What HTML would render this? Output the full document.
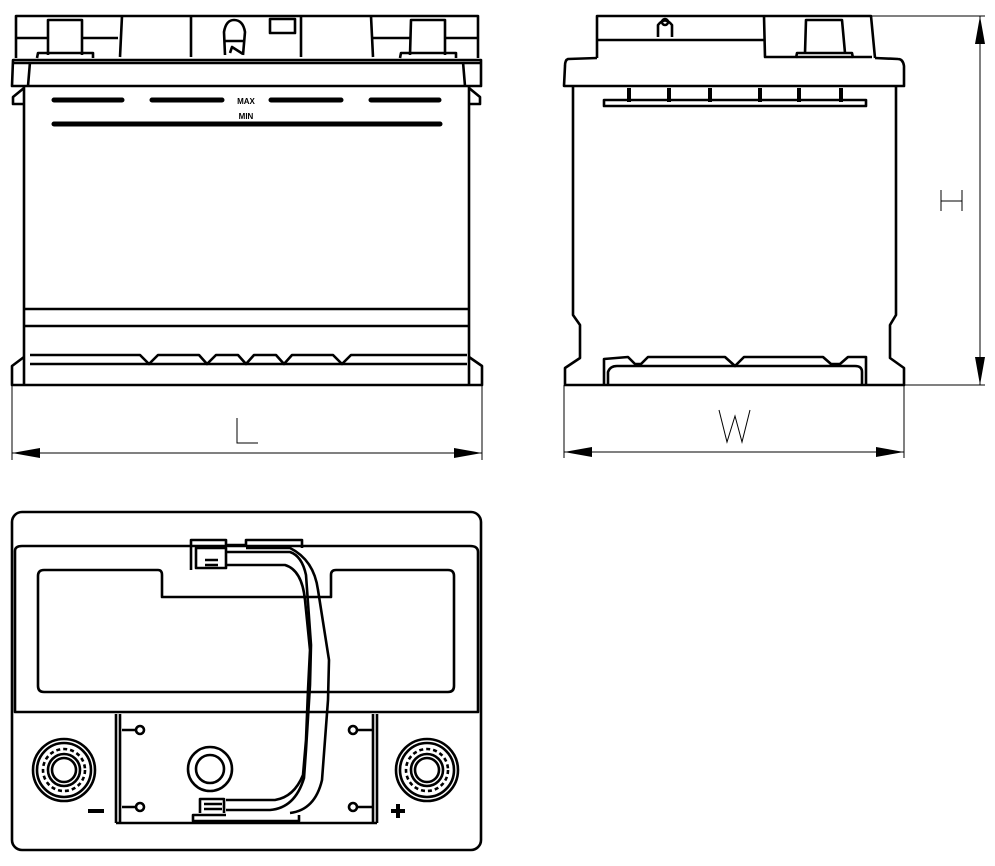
<!DOCTYPE html>
<html><head><meta charset="utf-8"><style>
html,body{margin:0;padding:0;background:#fff;width:995px;height:866px;overflow:hidden}
svg{display:block}
text{font-family:"Liberation Sans",sans-serif}
</style></head><body>
<svg width="995" height="866" viewBox="0 0 995 866" xmlns="http://www.w3.org/2000/svg">
<g fill="none" stroke="#000" stroke-width="2.6" stroke-linejoin="round">
<!-- FRONT VIEW -->
<path d="M16,58 L16,16 L478,16 L478,58"/>
<path d="M16,38 L48,38 M82,38 L118,38 M372,38 L410,38 M445,38 L478,38"/>
<path d="M48,55 L48,20 L82,20 L82,55"/>
<path d="M410,55 L411,20 L445,20 L445,55"/>
<path d="M37,58 L38,53 L93,53 L93,58 M400,58 L401,53 L456,53 L456,58"/>
<path d="M122,16 L120,57 M191,16 L191,57 M301,16 L301,57 M371,16 L373,57"/>
<path d="M225,55 L224,32 Q226,20 234,20 Q243,20 245,32 L243,55 M225,41 L243,41 M230,53 L232,47 L243,54"/>
<rect x="270" y="19" width="25" height="14"/>
<path d="M12,86 L13,60 L481,60 L481,86 Z" />
<path d="M14,63 L480,63"/>
<path d="M30,62 L28,86 M463,62 L465,86"/>
<path d="M24,86 L24,385 M469,86 L469,385"/>
<path d="M24,88 L13,97 L13,104 L24,104 M469,88 L480,97 L480,104 L469,104"/>
<g stroke-width="5" stroke-linecap="round">
<path d="M54,100 L122,100 M152,100 L222,100 M271,100 L341,100 M371,100 L439,100"/>
<path d="M54,124 L440,124"/>
</g>
<path d="M24,309 L469,309 M24,326 L469,326"/>
<path d="M30,355 L140,355 L149,364 L158,355 L199,355 L207,364 L216,355 L238,355 L246,364 L254,355 L276,355 L284,364 L292,355 L333,355 L342,364 L351,355 L467,355"/>
<path d="M30,364 L467,364"/>
<path d="M24,357 L12,366 L12,385 L482,385 L482,366 L469,357"/>
<!-- SIDE VIEW -->
<path d="M597,58 L597,16 L871,16 L875,58"/>
<path d="M597,40 L764,40 M764,16 L765,57 L872,57"/>
<path d="M658,37 L658,25 Q665,16 672,25 L672,37"/>
<circle cx="665" cy="22" r="3"/>
<path d="M805,53 L806,20 L842,20 L845,53 M796,58 L797,53 L852,53 L853,58"/>
<path d="M597,58 L568,59 Q565,60 565,66 L564,86 L904,86 L904,66 Q903,59 898,59 L875,58"/>
<path d="M573,86 L573,315 L580,325 L580,358 L565,368 L565,385 L904,385 L904,368 L890,358 L890,325 L896,315 L896,86"/>
<g stroke-width="4"><path d="M629,88 L629,102 M669,88 L669,102 M710,88 L710,102 M760,88 L760,102 M799,88 L799,102 M841,88 L841,102"/></g>
<path d="M604,100 L866,100 L866,106 L604,106 Z"/>
<path d="M604,385 L604,359 L628,357 L635,364 L641,364 L648,357 L725,357 L735,366 L744,357 L823,357 L831,364 L840,364 L848,357 L866,357 L866,385"/>
<path d="M608,385 L608,372 Q610,366 617,366 L855,366 Q862,366 862,372 L862,385"/>
<!-- TOP VIEW -->
<rect x="12" y="512" width="469" height="338" rx="10"/>
<path d="M15,712 L15,551 Q15,546 22,546 L470,546 Q478,546 478,552 L478,712 Z"/>
<path d="M38,576 Q38,570 44,570 L158,570 Q162,570 162,575 L162,597 L331,597 L331,575 Q331,570 336,570 L448,570 Q454,570 454,576 L454,686 Q454,692 448,692 L44,692 Q38,692 38,686 Z"/>
<path d="M116,823 L116,714 M377,823 L377,714 M120,714 L120,823 M373,714 L373,823 M116,823 L377,823"/>
<circle cx="64" cy="770" r="31"/><circle cx="64" cy="770" r="27"/><circle cx="64" cy="770" r="21" stroke-dasharray="4 3"/><circle cx="64" cy="770" r="16"/><circle cx="64" cy="770" r="12"/>
<circle cx="427" cy="770" r="31"/><circle cx="427" cy="770" r="27"/><circle cx="427" cy="770" r="21" stroke-dasharray="4 3"/><circle cx="427" cy="770" r="16"/><circle cx="427" cy="770" r="12"/>
<circle cx="210" cy="769" r="22"/><circle cx="210" cy="769" r="14"/>
<circle cx="140" cy="730" r="4"/><circle cx="353" cy="730" r="4"/><circle cx="140" cy="807" r="4"/><circle cx="353" cy="807" r="4"/>
<path d="M122,730 L136,730 M357,730 L372,730 M122,807 L136,807 M357,807 L372,807"/>
<path d="M191,570 L191,540 L226,540 L226,545 L246,545 L246,540 L302,540 L302,548 M196,568 L196,548 L226,548 L226,568 Z"/>
<path d="M205,560 L218,560 M205,565 L218,565"/>
<path d="M226,552 L290,552 Q302,556 306,575 L311,645 L310,685 L306,750 L304,778 Q295,808 270,810 L226,810"/>
<path d="M226,565 L285,565 Q302,570 305,600 L310,650 L308,690 L306,740 L303,775 Q294,797 275,800 L226,800"/>
<path d="M246,548 L290,548 Q314,560 318,590 L329,660 L328,700 L325,740 L322,780 Q315,810 290,813"/>
<path d="M226,815 L193,815 L193,821 L299,821 L299,815 M200,813 L200,799 L224,799 L224,813 M204,804 L222,804 M204,809 L222,809"/>
<path d="M88,811 L104,811" stroke-width="4"/>
<path d="M391,811 L405,811 M398,804 L398,818" stroke-width="4"/>
</g>
<!-- dimensions -->
<g stroke="#000" stroke-width="1" fill="none">
<path d="M12,385 L12,460 M482,385 L482,460 M12,453 L482,453"/>
<path d="M564,385 L564,458 M904,385 L904,458 M564,452 L904,452"/>
<path d="M872,16 L985,16 M904,385 L985,385 M980,16 L980,385"/>
<path d="M237,418 L237,443 L258,443"/>
<path d="M719,410 L727,442 L735,416 L742,442 L750,410"/>
<path d="M941,190 L941,211 M962,190 L962,211 M941,201 L962,201"/>
</g>
<g fill="#000">
<path d="M12,453 L40,448 L40,458 Z M482,453 L454,448 L454,458 Z"/>
<path d="M564,452 L592,447 L592,457 Z M904,452 L876,447 L876,457 Z"/>
<path d="M980,16 L975,44 L985,44 Z M980,385 L975,357 L985,357 Z"/>
<text x="246" y="104" font-size="8" font-weight="bold" text-anchor="middle">MAX</text>
<text x="246" y="119" font-size="8" font-weight="bold" text-anchor="middle">MIN</text>
</g>
</svg>
</body></html>
